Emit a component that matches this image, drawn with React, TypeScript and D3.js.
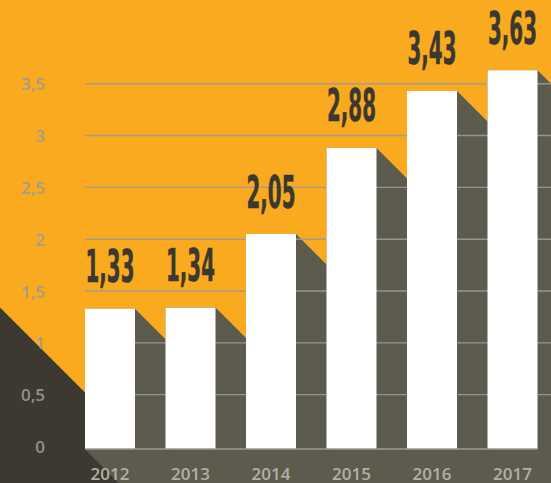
import * as d3 from 'd3';
import { useEffect, useRef } from 'react';

const years = ['2012', '2013', '2014', '2015', '2016', '2017'];
const values = [1.33, 1.34, 2.05, 2.88, 3.43, 3.63];
const yTicks = [0, 0.5, 1, 1.5, 2, 2.5, 3, 3.5];

const fmt = (v: number) => String(v).replace('.', ',');

const App = () => {
  const svgRef = useRef<SVGSVGElement | null>(null);

  useEffect(() => {
    document.body.style.margin = '0';
    const width = 551;
    const height = 483;

    const x = d3.scaleBand<string>()
      .domain(years)
      .range([85, 537.5])
      .paddingInner(0.379)
      .paddingOuter(0);

    const y = d3.scaleLinear()
      .domain([0, 3.5])
      .range([446.5, 83.7]);

    const base = y(0) + 2.5;
    const L = 220; // shadow length along 45deg

    const svg = d3.select(svgRef.current)
      .attr('width', width)
      .attr('height', height);
    svg.selectAll('*').remove();

    // background
    svg.append('rect')
      .attr('width', width)
      .attr('height', height)
      .attr('fill', '#F9AA1E');

    // dark corner triangle
    const x0 = x.range()[0];
    const ty = y(0) - 54 - x0; // y where diagonal meets left edge
    svg.append('path')
      .attr('d', `M0,${ty}L${height - ty},${height}L0,${height}Z`)
      .attr('fill', '#3B3931');

    // shadows
    const shadow = svg.append('g').attr('fill', '#5D5B4E');
    const xEnd = x.range()[1];
    shadow.append('path')
      .attr('d', `M${x0},${base}L${xEnd},${base}L${xEnd + L},${base + L}L${x0 + L},${base + L}Z`);
    shadow.selectAll('path.bar-shadow')
      .data(values)
      .join('path')
      .attr('class', 'bar-shadow')
      .attr('d', (d, i) => {
        const l = x(years[i])!;
        const r = l + x.bandwidth();
        const t = y(d);
        return `M${l},${t}L${r},${t}L${r + L},${t + L}L${r + L},${base + L}L${l + L},${base + L}L${l},${base}Z`;
      });

    // gridlines
    svg.append('g')
      .selectAll('line')
      .data(yTicks.filter((t) => t > 0))
      .join('line')
      .attr('x1', x0)
      .attr('x2', width)
      .attr('y1', (d) => y(d))
      .attr('y2', (d) => y(d))
      .attr('stroke', '#9a9a9a')
      .attr('stroke-opacity', 0.9)
      .attr('stroke-width', 1.4);

    // bars
    svg.append('g')
      .selectAll('rect')
      .data(values)
      .join('rect')
      .attr('x', (d, i) => x(years[i])!)
      .attr('y', (d) => y(d))
      .attr('width', x.bandwidth())
      .attr('height', (d) => base - y(d))
      .attr('fill', '#FFFFFF');

    // baseline
    svg.append('line')
      .attr('x1', x0)
      .attr('x2', xEnd)
      .attr('y1', base)
      .attr('y2', base)
      .attr('stroke', '#9a9a9a')
      .attr('stroke-width', 1.6);

    // y labels
    svg.append('g')
      .selectAll('text')
      .data(yTicks)
      .join('text')
      .attr('x', 45)
      .attr('y', (d) => y(d) + 6.5)
      .attr('text-anchor', 'end')
      .attr('font-family', '"Open Sans", sans-serif')
      .attr('font-weight', 600)
      .attr('font-size', 17)
      .attr('fill', '#9b9b9b')
      .attr('fill-opacity', 0.92)
      .text((d) => fmt(d));

    // x labels
    svg.append('g')
      .selectAll('text')
      .data(years)
      .join('text')
      .attr('x', (d) => x(d)! + x.bandwidth() / 2)
      .attr('y', 480)
      .attr('text-anchor', 'middle')
      .attr('font-family', '"Open Sans", sans-serif')
      .attr('font-weight', 600)
      .attr('font-size', 17)
      .attr('fill', '#b2b0a6')
      .text((d) => d);

    // value labels (condensed)
    const labels = svg.append('g')
      .selectAll('text')
      .data(values)
      .join('text')
      .attr('text-anchor', 'middle')
      .attr('font-family', '"DejaVu Sans Condensed", "DejaVu Sans", sans-serif')
      .attr('font-weight', 700)
      .attr('font-size', 45)
      .attr('fill', '#3A3830')
      .attr('stroke', '#3A3830')
      .attr('stroke-width', 0.5)
      .text((d) => fmt(d));

    let maxW = 0;
    labels.each(function () {
      const w = (this as SVGTextElement).getComputedTextLength();
      if (w > maxW) maxW = w;
    });
    const k = maxW > 0 ? (x.bandwidth() - 1) / maxW : 0.5;
    labels.attr('transform', (d, i) =>
      `translate(${x(years[i])! + x.bandwidth() / 2},${y(d) - 26.5}) scale(${k},1)`);
  }, []);

  return <svg ref={svgRef} style={{ display: 'block' }}></svg>;
};

export default App;
